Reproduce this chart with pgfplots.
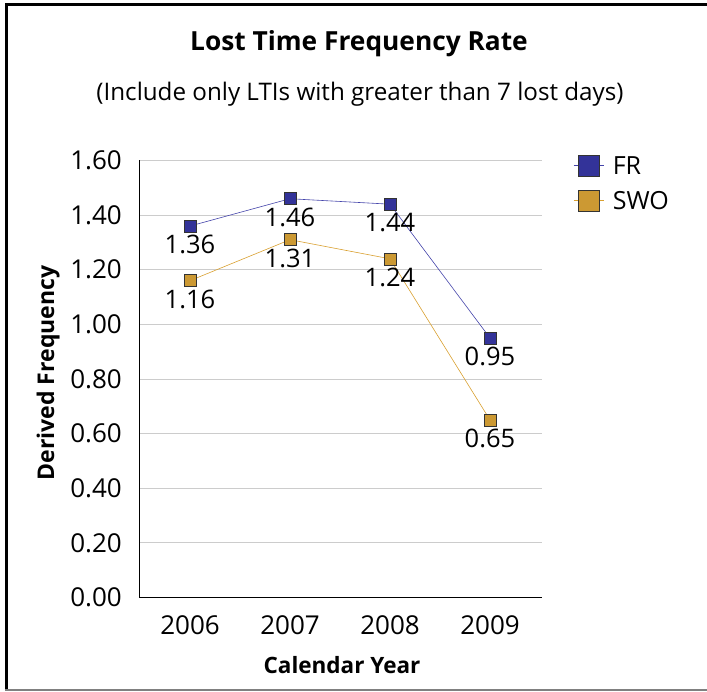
\documentclass[border=0pt]{standalone}
\usepackage{pgfplots}
\pgfplotsset{compat=1.18}
\usepackage{fontspec}
\setmainfont{Open Sans}
\definecolor{frblue}{HTML}{333399}
\definecolor{frline}{HTML}{4444AA}
\definecolor{swogold}{HTML}{CC9933}
\definecolor{swoline}{HTML}{D9A030}
\definecolor{gridgray}{HTML}{CCCCCC}
\begin{document}
\begin{tikzpicture}[x=1pt,y=1pt]
\useasboundingbox (0,0) rectangle (707,692);
\draw[line width=3pt] (6.5,2) -- (6.5,687.5) -- (707,687.5);
\draw[gray, line width=2pt] (5,2) -- (707,2);
\node[anchor=base, inner sep=0pt, font=\fontsize{26.3}{31}\selectfont\bfseries] at (359,641) {Lost Time Frequency Rate};
\node[anchor=base, inner sep=0pt, font=\fontsize{24.2}{28}\selectfont] at (360,591) {(Include only LTIs with greater than 7 lost days)};
\node[anchor=base, inner sep=0pt, font=\fontsize{22.5}{26}\selectfont\bfseries] at (342,18) {Calendar Year};
\node[anchor=base, inner sep=0pt, rotate=90, font=\fontsize{23}{27}\selectfont\bfseries] at (54,319) {Derived Frequency};
\begin{axis}[
  at={(139pt,94.5pt)}, anchor=south west,
  scale only axis, width=403pt, height=437pt,
  xmin=-0.51, xmax=3.52, ymin=0, ymax=1.6,
  xtick={0,1,2,3}, xticklabels={2006,2007,2008,2009},
  ytick={0,0.2,0.4,0.6,0.8,1.0,1.2,1.4,1.6},
  major tick length=0pt,
  axis x line*=bottom, axis y line*=left,
  axis line style={black, line width=0.8pt, -},
  ymajorgrids, grid style={gridgray, line width=0.8pt},
  /pgf/number format/assume math mode=true,
  /pgf/number format/fixed,
  /pgf/number format/fixed zerofill,
  /pgf/number format/precision=2,
  y tick label style={anchor=east, inner sep=0pt, xshift=-17pt, font=\fontsize{26}{30}\selectfont},
  x tick label style={anchor=north, inner sep=0pt, yshift=-18pt, font=\fontsize{26}{30}\selectfont},
  nodes near coords,
  every node near coord/.append style={anchor=north, inner sep=0pt, yshift=-9pt, font=\fontsize{25.5}{30}\selectfont, text=black},
  legend image code/.code={
    \draw[mark repeat=2, mark phase=2, #1, mark size=10.5pt, line width=0.6pt] plot coordinates {(0pt,0pt) (15pt,0pt) (30pt,0pt)};
  },
  legend style={at={(1.077,1.0126)}, anchor=north west, draw=none, fill=none, inner sep=0pt, row sep=14pt,
    font=\fontsize{25}{30}\selectfont, cells={anchor=west},
    nodes={inner sep=0pt, text depth=0pt}},
  legend cell align=left,
]
\addplot[frline, line width=0.6pt, mark=square*, mark size=6pt, mark options={fill=frblue, draw=black!80, line width=0.6pt}]
  coordinates {(0,1.36) (1,1.46) (2,1.44) (3,0.95)};
\addlegendentry{\hspace{9pt}FR}
\addplot[swoline, line width=0.6pt, mark=square*, mark size=6pt, mark options={fill=swogold, draw=black!80, line width=0.6pt}]
  coordinates {(0,1.16) (1,1.31) (2,1.24) (3,0.65)};
\addlegendentry{\hspace{9pt}SWO}
\end{axis}
\end{tikzpicture}
\end{document}
